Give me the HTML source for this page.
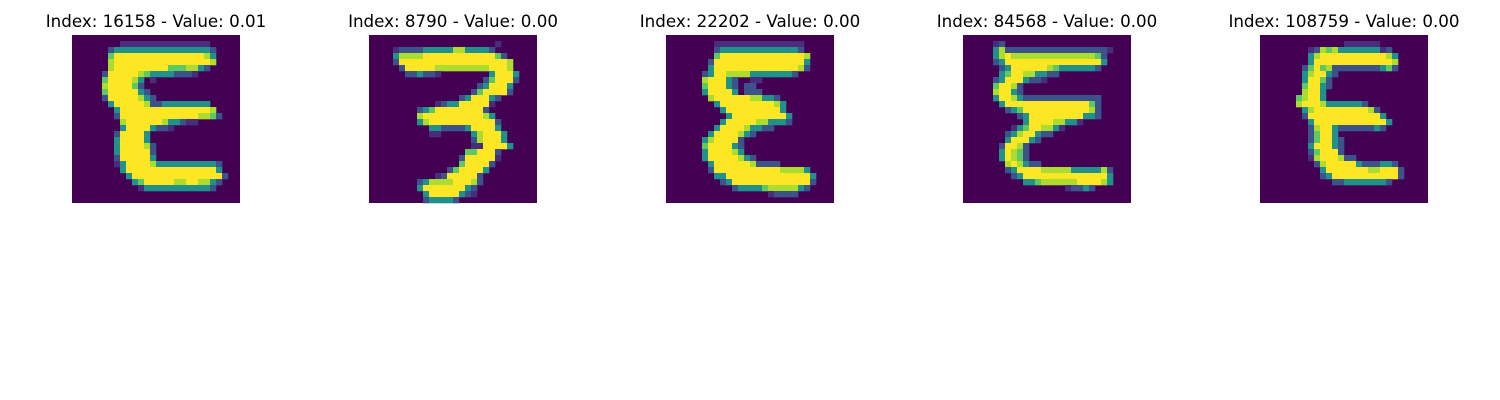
<!DOCTYPE html>
<html><head><meta charset="utf-8">
<style>
html,body{margin:0;padding:0;background:#fff;width:1500px;height:400px;overflow:hidden}
svg{display:block}
</style></head>
<body>
<svg id="fig" width="1500" height="400" xmlns="http://www.w3.org/2000/svg"></svg>
<script>
const titles = ["Index: 16158 - Value: 0.01","Index: 8790 - Value: 0.00","Index: 22202 - Value: 0.00","Index: 84568 - Value: 0.00","Index: 108759 - Value: 0.00"];
const palette = {".":"#440154","a":"#472d7b","b":"#3b528b","t":"#21918c","g":"#5ec962","l":"#addc30","y":"#fde725"};
const img0 = [
"............................",
"........aaaaaaaaaaaaaaa.....",
"......bttttttttttttttttb....",
"......gyyyyyyyyyyyyyyylt....",
"......lyyyyyyyyyyyyyyyyl....",
"......lyyyyyyyyyggglltb.....",
".....byyyyylgttttbbba.......",
".....gyyyylt.a..............",
".....lyyyygb................",
".....gyyyyytb...............",
".....byyyyyltb..............",
"......tyyyyylbbtttttttt.....",
".......tyyyyyyyyyyyyyyyl....",
".......byyyyyyyyyyyyyllgb...",
"........lyyyyyylttbaa.......",
"........tyyyytbba...........",
".......byyyyt...............",
".......tyyyyt...............",
".......tyyyylb..............",
".......tyyyyyb..............",
".......byyyyyt..............",
".......atyyyylttttttttttb...",
"........tyyyyyyyyyyyyyyyt...",
".........tyyyyyyyyyyyyyyyb..",
"..........tgyyyyyllyylltb...",
"...........atttttttttttb....",
"............................",
"............................"];
const img1 = [
"............................",
".....................a......",
"....abbbbtttttllttttb.......",
"....tllllyyyyyyyyyyyygb.....",
"....byyyyyyyyyyyyyyyyyyl....",
".....byyyyylllllllllyyyl....",
"......bbtbba........tyyyt...",
"...................bgyyyb...",
"..................btyyyt....",
".................bgyyyyb....",
"...............btyyytb......",
"...........abttyyyyya.......",
"........btgyyyyyyyyb........",
"........lyyyyyyyyyylt.......",
"........tlyyyyyyyyyyyb......",
"..........ttbbbbtyyyyt......",
"..........aa.....tlyyyt.....",
".................blyyyt.....",
".................aayyyyt....",
"................ggyyyb......",
"...............byyyyya......",
"...............gyyyyb.......",
".............bgyyyyt........",
"...........abyyyyyb.........",
"........btllllyyylb.........",
"........tyyyyyyytb..........",
".........tyyyyytba..........",
".........bttttb............."];
const img2 = [
"............................",
"........aaaaaaaaaaaaaaa.....",
"........btttttttttttttb.....",
"........gyyyyyyyyyyyyyyl....",
".......byyyyyyyyyyyyyyyt....",
".......tyyyyyyyyyyyyyylb....",
"......btyylllltttttttb......",
"......lyyytb..aa............",
"......gyyytb.bb.............",
"......tyyyyt.bbb............",
".......lyyyyyyllttb.........",
"........tyyyyyyyyylt........",
".........tyyyyyyyyyt........",
"..........tyyyyyyyyyt.......",
".........tyyyyylltttb.......",
"........tyyyylttbb..........",
".......tyyyyltb.............",
"......tlyyyyb...............",
"......gyyyytb...............",
"......tyyyylt...............",
"......tyyyyyltb.............",
".......tyyyyyylbbbb.........",
".......byyyyyyyyyyyllllt....",
"........ttyyyyyyyyyyyyyyt...",
".........btyyyyyyyyyyyyyb...",
"...........bttttgllllltb....",
".................abbbb......",
"............................"];
const img3 = [
"............................",
".....ab.....................",
".....tlbbbbbbbbbbbbbbbbba...",
".....tlyllllllllllllllgb....",
".....btyyyyyyyyyyyyyyyyt....",
"......btyyyyyylgttttttb.....",
"......tgyyllttbb............",
".....btyyytbba..............",
".....gyylb..................",
".....lyytb..................",
".....tyyltbbbbbbbbbbbbb.....",
"......tyyyyyyyyyyyyyygb.....",
".......btgyyyyyyyyyyylb.....",
".........btyyyyyyyyyttb.....",
"..........tyyyylltta........",
"........atgyyllta...........",
".......btlyytbb.............",
".......tyyytb...............",
"......byylb.................",
"......tylgb.................",
"......tylgb.................",
".......lyltbb...............",
".......btyyyyllllltttttlb...",
"........btyyyyyyyyyyyyyyt...",
"..........ttgllllllyyyylt...",
".................abbtb......",
"............................",
"............................"];
const img4 = [
"............................",
"..............aaaaaa........",
"........ablgltttttttab......",
"........tlyyyyyyyyyyylt.....",
"........tyyyyyyyyyyyyyl.....",
".......bgyglbbbbbbbbtgb.....",
".......tlyytb...............",
".......tyygb................",
".......gyytb................",
".......lyyt.................",
"......glyyt.................",
"......lyyylttttttb..........",
".......tlyyyyyyyyylb........",
".......byyyyyyyyyyyyt.......",
"........tyyyyyyyyyyyyt......",
"........blyytbbbbbbtb.......",
"........bgyyt...............",
"........bgyytb..............",
"........tyyytb..............",
"........bgyyyb..............",
"........alyyylbb............",
".........blyyyyytbbbttb.....",
"..........tyyyyyyyllyyyb....",
"..........btyyyyyyyyyyyb....",
"............bbtttttttb......",
"............................",
"............................",
"............................"];
const images = [img0, img1, img2, img3, img4];

const NS = "http://www.w3.org/2000/svg";
const svg = document.getElementById("fig");
const left0 = 72, step = 297, top0 = 35, size = 168, N = 28, cell = size / N;
images.forEach((img, i) => {
  const g = document.createElementNS(NS, "g");
  
  
  const x0 = left0 + step * i;
  const bg = document.createElementNS(NS, "rect");
  bg.setAttribute("x", x0); bg.setAttribute("y", top0);
  bg.setAttribute("width", size); bg.setAttribute("height", size);
  bg.setAttribute("fill", palette["."]);
  
  
  g.appendChild(bg);
  for (let r = 0; r < N; r++) {
    const row = (img[r] || "").padEnd(N, ".");
    for (let c = 0; c < N; c++) {
      const ch = row[c];
      if (ch === "." || !palette[ch]) continue;
      const rc = document.createElementNS(NS, "rect");
      rc.setAttribute("x", x0 + c * cell); rc.setAttribute("y", top0 + r * cell);
      rc.setAttribute("width", cell + 0.3); rc.setAttribute("height", cell + 0.3);
      rc.setAttribute("fill", palette[ch]);
      
      
      g.appendChild(rc);
    }
  }
  const t = document.createElementNS(NS, "text");
  t.setAttribute("x", x0 + size / 2); t.setAttribute("y", 27);
  t.setAttribute("text-anchor", "middle");
  t.setAttribute("font-family", "DejaVu Sans, Liberation Sans, sans-serif");
  t.setAttribute("font-size", "16.7");
  t.setAttribute("fill", "#000");
  
  
  t.textContent = titles[i];
  g.appendChild(t);
  svg.appendChild(g);
});
</script>
</body></html>
